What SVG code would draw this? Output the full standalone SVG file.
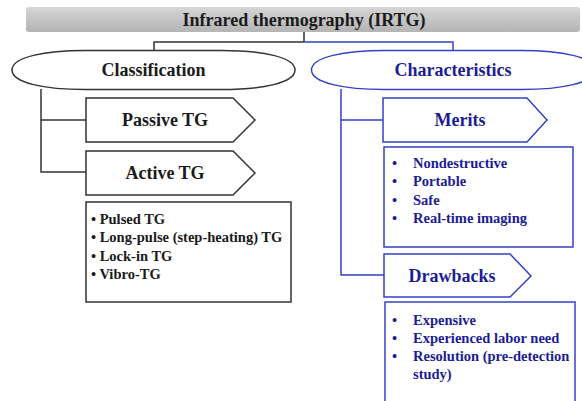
<svg xmlns="http://www.w3.org/2000/svg" width="582" height="401" viewBox="0 0 582 401">
<defs>
<linearGradient id="gbar" x1="0" y1="0" x2="0" y2="1">
<stop offset="0" stop-color="#d6d6d6"/>
<stop offset="1" stop-color="#b4b4b4"/>
</linearGradient>
</defs>
<style>
text{font-family:"Liberation Serif","Times New Roman",serif;font-weight:bold}
.k{fill:#1a1a1a}
.b{fill:#1c1c96}
.sk{fill:#fff;stroke:#333;stroke-width:1.5}
.sb{fill:#fff;stroke:#3442c4;stroke-width:1.5}
.lk{fill:none;stroke:#333;stroke-width:1.5}
.lb{fill:none;stroke:#3442c4;stroke-width:1.5}
.h{font-size:18px;text-anchor:middle;dominant-baseline:central}
.li{font-size:14.5px}
</style>
<rect width="582" height="401" fill="#fff"/>

<g id="connectors">
<path class="lk" d="M304,32 V42 M304,42 H154 V51"/>
<path class="lb" d="M304,42 H453 V50"/>
<path class="lk" d="M41,89 V172 H86 M41,120 H86"/>
<path class="lb" d="M341,89 V275 H384 M341,120 H383"/>
</g>

<g id="title">
<rect x="26" y="7" width="554" height="25" rx="3" fill="url(#gbar)"/>
<text class="k" x="304" y="19.5" style="font-size:18px;text-anchor:middle;dominant-baseline:central">Infrared thermography (IRTG)</text>
</g>

<g id="classification">
<path class="sk" d="M12,70 C12,57 45,50.5 85,50.5 L222,50.5 C262,50.5 295,57 295,70 C295,83 262,89.5 222,89.5 L85,89.5 C45,89.5 12,83 12,70 Z"/>
<text class="k h" x="153.5" y="70">Classification</text>
</g>

<g id="characteristics">
<path class="sb" d="M311.5,70 C311.5,57 344.5,50.5 384.5,50.5 L521.5,50.5 C561.5,50.5 594.5,57 594.5,70 C594.5,83 561.5,89.5 521.5,89.5 L384.5,89.5 C344.5,89.5 311.5,83 311.5,70 Z"/>
<text class="b h" x="453" y="70">Characteristics</text>
</g>

<g id="passive">
<path class="sk" d="M86,98 H233 L255,120 L233,142 H86 Z"/>
<text class="k h" x="165" y="120">Passive TG</text>
</g>

<g id="active">
<path class="sk" d="M86,151 H233 L255,173 L233,195 H86 Z"/>
<text class="k h" x="165" y="173">Active TG</text>
</g>

<g id="active-list">
<rect class="sk" x="86" y="202" width="205" height="100"/>
<g class="k li">
<text x="91" y="224">• Pulsed TG</text>
<text x="91" y="242">• Long-pulse (step-heating) TG</text>
<text x="91" y="261">• Lock-in TG</text>
<text x="91" y="279">• Vibro-TG</text>
</g>
</g>

<g id="merits">
<path class="sb" d="M383,98 H527 L547,120 L527,142 H383 Z"/>
<text class="b h" x="460" y="120">Merits</text>
</g>

<g id="merits-list">
<rect class="sb" x="384" y="147" width="189" height="100"/>
<g class="b li">
<text x="392" y="168">•</text><text x="413" y="168">Nondestructive</text>
<text x="392" y="186">•</text><text x="413" y="186">Portable</text>
<text x="392" y="205">•</text><text x="413" y="205">Safe</text>
<text x="392" y="223">•</text><text x="413" y="223">Real-time imaging</text>
</g>
</g>

<g id="drawbacks">
<path class="sb" d="M384,254 H510 L531,276 L510,297 H384 Z"/>
<text class="b h" x="452" y="276">Drawbacks</text>
</g>

<g id="drawbacks-list">
<rect class="sb" x="385" y="302" width="190" height="110"/>
<g class="b li">
<text x="392" y="325">•</text><text x="413" y="325">Expensive</text>
<text x="392" y="343">•</text><text x="413" y="343">Experienced labor need</text>
<text x="392" y="361">•</text><text x="413" y="361">Resolution (pre-detection</text>
<text x="413" y="379">study)</text>
</g>
</g>
</svg>
